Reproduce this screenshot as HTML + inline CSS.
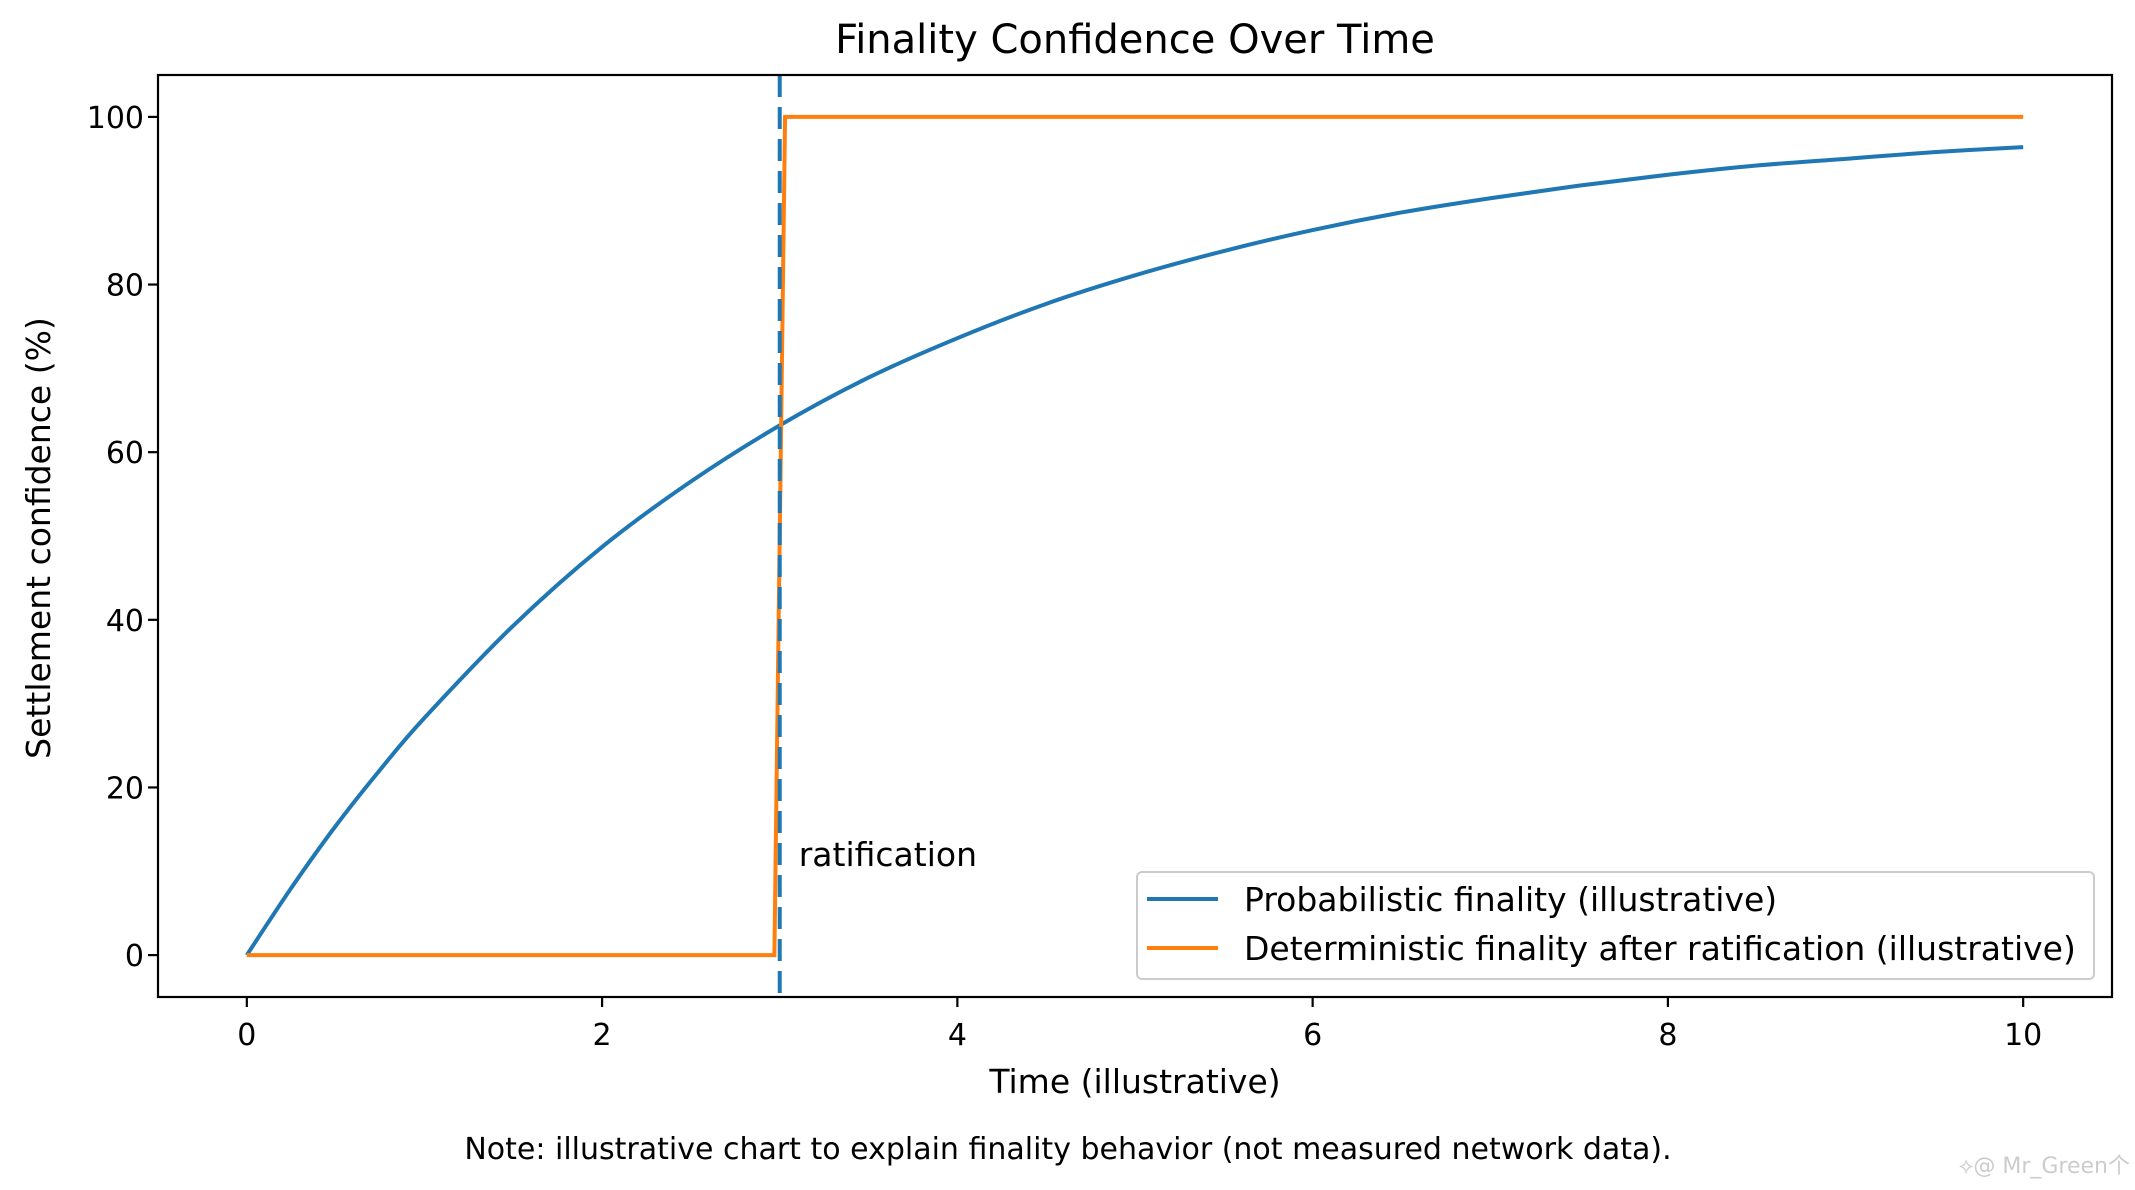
<!DOCTYPE html>
<html><head><meta charset="utf-8"><style>
body{margin:0;background:#fff}
svg{display:block;font-family:"DejaVu Sans","Liberation Sans",sans-serif}
</style></head><body>
<svg id="chart" width="2135" height="1190" viewBox="0 0 2135 1190">
<text x="1135" y="53" font-size="40" text-anchor="middle">Finality Confidence Over Time</text>
<g id="plot"></g>
<text transform="translate(50,538) rotate(-90)" font-size="33" text-anchor="middle">Settlement confidence (%)</text>
<text x="1135" y="1093" font-size="33" text-anchor="middle">Time (illustrative)</text>
<text x="1068" y="1159" font-size="30" text-anchor="middle">Note: illustrative chart to explain finality behavior (not measured network data).</text>
<text x="2130" y="1173" font-size="22" text-anchor="end" fill="#ccc">⟡@ Mr_Green个</text>
</svg>
<script>
const probT = [0,0.25,0.5,0.75,1,1.5,2,2.5,3,3.5,4,4.5,5,5.5,6,6.5,7,7.5,8,8.5,9,9.5,10];
const probV = [0,8.0,15.4,22.1,28.3,39.3,48.7,56.5,63.2,68.9,73.6,77.7,81.1,84.0,86.5,88.6,90.3,91.8,93.1,94.2,95.0,95.8,96.4];
const detT = [0,2.97,3.03,10];
const detV = [0,0,100,100];
const ratT = 3;
const xTicks = [0,2,4,6,8,10];
const yTicks = [0,20,40,60,80,100];
const L=158,R=2112,T=75,B=997;
const sx=v=>L+(v+0.5)/11*(R-L);
const sy=v=>B-(v+5)/110*(B-T);
const NS="http://www.w3.org/2000/svg";
const g=document.getElementById('plot');
function mk(tag,attrs){const e=document.createElementNS(NS,tag);for(const k in attrs)e.setAttribute(k,attrs[k]);g.appendChild(e);return e;}
const pts=probT.map((t,i)=>[sx(t),sy(probV[i])]);
let d=`M${pts[0][0]},${pts[0][1]}`;
for(let i=0;i<pts.length-1;i++){const p0=pts[Math.max(0,i-1)],p1=pts[i],p2=pts[i+1],p3=pts[Math.min(pts.length-1,i+2)];
d+=` C${p1[0]+(p2[0]-p0[0])/6},${p1[1]+(p2[1]-p0[1])/6} ${p2[0]-(p3[0]-p1[0])/6},${p2[1]-(p3[1]-p1[1])/6} ${p2[0]},${p2[1]}`;}
const blue=mk('path',{d:d,fill:'none',stroke:'#1f77b4','stroke-width':4,'stroke-linejoin':'round'});


const orange=mk('polyline',{points:detT.map((t,i)=>sx(t)+','+sy(detV[i])).join(' '),fill:'none',stroke:'#ff7f0e','stroke-width':4});


const vl=mk('line',{x1:sx(ratT),x2:sx(ratT),y1:T,y2:B,stroke:'#1f77b4','stroke-width':4,'stroke-dasharray':'22,10'});


const rt=mk('text',{x:sx(ratT)+19,y:866,'font-size':33});rt.textContent='ratification';


const frame=mk('rect',{x:L,y:T,width:R-L,height:B-T,fill:'none',stroke:'#000','stroke-width':2.2});


xTicks.forEach(v=>{const x=sx(v);
const tk=mk('line',{x1:x,x2:x,y1:B,y2:B+10,stroke:'#000','stroke-width':2.2});


const tx=mk('text',{x:x,y:B+48,'font-size':30,'text-anchor':'middle'});tx.textContent=v;

});
yTicks.forEach(v=>{const y=sy(v);
const tk=mk('line',{x1:L-10,x2:L,y1:y,y2:y,stroke:'#000','stroke-width':2.2});


const tx=mk('text',{x:L-14,y:y+11,'font-size':30,'text-anchor':'end'});tx.textContent=v;

});
const lg=mk('rect',{x:1137,y:872,width:957,height:107,rx:5,fill:'#fff','fill-opacity':0.8,stroke:'#ccc','stroke-width':2});


[['#1f77b4','Probabilistic finality (illustrative)',899],['#ff7f0e','Deterministic finality after ratification (illustrative)',948]].forEach(([c,t,y])=>{
const ln=mk('line',{x1:1147,x2:1218,y1:y,y2:y,stroke:c,'stroke-width':4});


const tx=mk('text',{x:1244,y:y+12,'font-size':33});tx.textContent=t;

});
</script>
</body></html>
